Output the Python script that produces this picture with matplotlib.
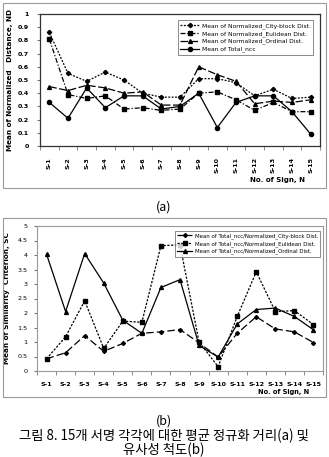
import matplotlib
matplotlib.use("Agg")
import matplotlib.pyplot as plt
from matplotlib.patches import Rectangle

plt.rcParams['font.family'] = ['DejaVu Sans']

signs = [f"S-{i}" for i in range(1, 16)]

# (a) mean of normalized distance
nd_city = [0.86, 0.55, 0.49, 0.56, 0.50, 0.40, 0.37, 0.37, 0.51, 0.51, 0.48, 0.38, 0.43, 0.36, 0.37]
nd_eucl = [0.81, 0.39, 0.36, 0.38, 0.28, 0.29, 0.27, 0.28, 0.40, 0.41, 0.35, 0.27, 0.33, 0.26, 0.26]
nd_ord = [0.45, 0.42, 0.46, 0.44, 0.40, 0.41, 0.31, 0.31, 0.60, 0.54, 0.49, 0.32, 0.34, 0.33, 0.35]
nd_ncc = [0.33, 0.21, 0.44, 0.29, 0.38, 0.38, 0.28, 0.30, 0.40, 0.14, 0.33, 0.38, 0.38, 0.26, 0.09]

# (b) mean of similarity criterion
sc_city = [0.42, 0.63, 1.22, 0.68, 0.95, 1.30, 1.35, 1.43, 0.97, 0.48, 1.30, 1.87, 1.45, 1.35, 0.98]
sc_eucl = [0.42, 1.18, 2.42, 0.78, 1.72, 1.68, 4.32, 4.35, 1.00, 0.15, 1.88, 3.42, 2.05, 2.08, 1.60]
sc_ord = [4.03, 2.05, 4.05, 3.03, 1.75, 1.30, 2.88, 3.15, 0.88, 0.48, 1.62, 2.12, 2.17, 1.88, 1.42]

W, H = 329, 457
fig = plt.figure(figsize=(W / 100, H / 100), dpi=100)
kr = ['Noto Sans CJK KR', 'DejaVu Sans']


def px_axes(l, t, r, b):
    return fig.add_axes([l / W, 1 - b / H, (r - l) / W, (b - t) / H])


def frame(l, t, r, b):
    fig.patches.append(Rectangle((l / W, 1 - b / H), (r - l) / W, (b - t) / H,
                                 transform=fig.transFigure, fill=False,
                                 edgecolor='#999999', linewidth=0.8))


x = list(range(1, 16))
fs = 4.6
ms = 2.8

# ---- chart (a) ----
frame(3, 3, 326, 188)
ax1 = px_axes(40, 14, 320, 146)
ax1.plot(x, nd_city, linestyle=(0, (1.5, 1.2)), marker='D', markersize=ms - 0.6, color='black', lw=0.9,
         label='Mean of Normalized_City-block Dist.')
ax1.plot(x, nd_eucl, linestyle=(0, (4, 1.5, 1, 1.5)), marker='s', markersize=ms + 0.3, color='black', lw=0.9,
         label='Mean of Normalized_Eulidean Dist.')
ax1.plot(x, nd_ord, linestyle=(0, (6, 2)), marker='^', markersize=ms, color='black', lw=0.9,
         label='Mean of Normalized_Ordinal Dist.')
ax1.plot(x, nd_ncc, linestyle='-', marker='o', markersize=ms + 0.2, color='black', lw=0.9,
         label='Mean of Total_ncc')
ax1.set_xlim(0.5, 15.5)
ax1.set_ylim(0, 1)
ax1.set_yticks([i / 10 for i in range(11)])
ax1.set_yticklabels(['0'] + [f"{i / 10:.1f}" for i in range(1, 10)] + ['1'], fontsize=fs, fontweight='bold')
ax1.set_xticks(x)
ax1.set_xticklabels(signs, rotation=90, fontsize=fs, fontweight='bold')
ax1.set_xticks([i + 0.5 for i in range(0, 16)], minor=True)
ax1.tick_params(axis='x', which='major', length=0, pad=8)
ax1.tick_params(axis='x', which='minor', length=3, color='#777777')
ax1.tick_params(axis='y', length=2, pad=6, color='#777777')
ax1.set_ylabel('Mean of Normalized   Distance, ND', fontsize=5.2, fontweight='bold', labelpad=3)
for s in ax1.spines.values():
    s.set_color('#333333')
    s.set_linewidth(0.9)
fig.text(305 / W, 1 - 180 / H, 'No. of Sign, N', ha='right', va='center',
         fontsize=5.0, fontweight='bold')
leg1 = ax1.legend(loc='upper right', bbox_to_anchor=(0.985, 0.975), fontsize=4.3, frameon=True,
                  fancybox=False, edgecolor='#555555', handlelength=3.2, borderpad=0.4,
                  labelspacing=0.35, handletextpad=0.4)
leg1.get_frame().set_linewidth(0.6)

fig.text(164 / W, 1 - 207 / H, '(a)', ha='center', va='center', fontsize=9, family=kr)

# ---- chart (b) ----
frame(3, 218, 326, 397)
ax2 = px_axes(37, 226, 323, 371)
ax2.plot(x, sc_city, linestyle=(0, (6, 2.5)), marker='D', markersize=ms - 0.8, color='black', lw=0.9,
         label='Mean of Total_ncc/Normalized_City-block Dist.')
ax2.plot(x, sc_eucl, linestyle=(0, (1.8, 1.2)), marker='s', markersize=ms + 0.6, color='black', lw=0.9,
         label='Mean of Total_ncc/Normalized_Eulidean Dist.')
ax2.plot(x, sc_ord, linestyle='-', marker='^', markersize=ms, color='black', lw=0.9,
         label='Mean of Total_ncc/Normalized_Ordinal Dist.')
ax2.set_xlim(0.5, 15.5)
ax2.set_ylim(0, 5)
ax2.set_yticks([i / 2 for i in range(11)])
ax2.set_yticklabels([f"{v:g}" for v in [i / 2 for i in range(11)]], fontsize=fs)
ax2.set_xticks(x)
ax2.set_xticklabels(signs, fontsize=fs, fontweight='bold')
ax2.set_xticks([i + 0.5 for i in range(0, 16)], minor=True)
ax2.tick_params(axis='x', which='major', length=0, pad=8)
ax2.tick_params(axis='x', which='minor', length=3, color='#777777')
ax2.tick_params(axis='y', length=2, pad=5, color='#777777')
ax2.set_ylabel('Mean of Similarity  Criterion, SC', fontsize=5.2, fontweight='bold', labelpad=5)
for s in ax2.spines.values():
    s.set_color('#999999')
    s.set_linewidth(0.8)
fig.text(309 / W, 1 - 392 / H, 'No. of Sign, N', ha='right', va='center',
         fontsize=4.8, fontweight='bold')
leg2 = ax2.legend(loc='upper right', bbox_to_anchor=(1.0, 0.985), fontsize=3.9, frameon=True,
                  fancybox=False, edgecolor='#555555', handlelength=2.8, borderpad=0.4,
                  labelspacing=0.4, handletextpad=0.4)
leg2.get_frame().set_linewidth(0.6)

fig.text(164 / W, 1 - 421 / H, '(b)', ha='center', va='center', fontsize=9, family=kr)
fig.text(164 / W, 1 - 436 / H, '그림 8. 15개 서명 각각에 대한 평균 정규화 거리(a) 및',
         ha='center', va='center', fontsize=9.6, family=kr)
fig.text(164 / W, 1 - 449.5 / H, '유사성 척도(b)',
         ha='center', va='center', fontsize=9.6, family=kr)

fig.savefig('out.png', dpi=100)
